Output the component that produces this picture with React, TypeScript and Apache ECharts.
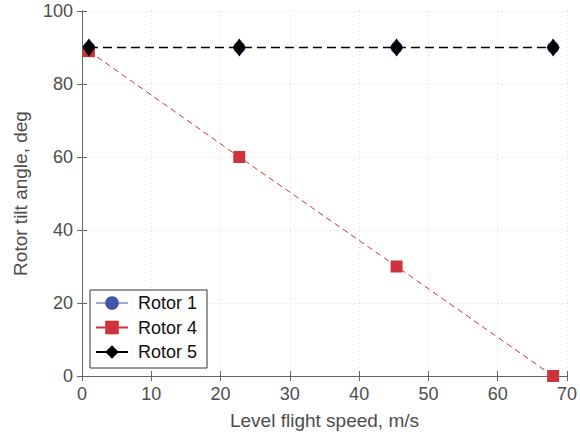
import React, { useEffect, useRef } from "react";
import * as echarts from "echarts";

// Level flight speed (m/s) at each transition point
const speeds = [1, 22.7, 45.4, 68];
// Rotor tilt angle (deg) per rotor
const rotor1 = [90, 90, 90, 90];
const rotor4 = [89, 60, 30, 0];
const rotor5 = [90, 90, 90, 90];

const xTicks = { min: 0, max: 70, interval: 10 };
const yTicks = { min: 0, max: 100, interval: 20 };

const FONT = "Liberation Sans, Arial, Helvetica, sans-serif";
const AXIS_COLOR = "#666666";
const LABEL_COLOR = "#4d4d4d";
const BLUE = "#4156a8";
const RED = "#d0323c";

const pair = (ys: number[]) => speeds.map((x, i) => [x, ys[i]]);

export default function App() {
  const ref = useRef<HTMLDivElement>(null);

  useEffect(() => {
    if (!ref.current) return;
    const chart = echarts.init(ref.current, null, { renderer: "svg" });

    const axisLine = { show: true, lineStyle: { color: AXIS_COLOR, width: 1 } };
    const axisTick = { show: true, inside: true, length: 5, lineStyle: { color: AXIS_COLOR } };
    const gridLine = { show: true, lineStyle: { color: "#dcdcdc", type: [1, 3] as any, width: 1 } };

    chart.setOption({
      animation: false,
      backgroundColor: "#ffffff",
      textStyle: { fontFamily: FONT },
      grid: { left: 82, right: 10, top: 11, bottom: 62 },
      xAxis: [
        {
          type: "value",
          ...xTicks,
          position: "bottom",
          axisLine,
          axisTick,
          splitLine: gridLine,
          axisLabel: { color: LABEL_COLOR, fontSize: 18, margin: 9, fontFamily: FONT },
          name: "Level flight speed, m/s",
          nameLocation: "middle",
          nameGap: 35,
          nameTextStyle: { color: LABEL_COLOR, fontSize: 19, fontFamily: FONT },
        },
        {
          type: "value",
          ...xTicks,
          position: "top",
          axisLine,
          axisTick,
          splitLine: { show: false },
          axisLabel: { show: false },
        },
      ],
      yAxis: [
        {
          type: "value",
          ...yTicks,
          position: "left",
          axisLine,
          axisTick,
          splitLine: gridLine,
          axisLabel: { color: LABEL_COLOR, fontSize: 18, margin: 9, fontFamily: FONT },
          name: "Rotor tilt angle, deg",
          nameLocation: "middle",
          nameGap: 52,
          nameTextStyle: { color: LABEL_COLOR, fontSize: 19, fontFamily: FONT },
        },
        {
          type: "value",
          ...yTicks,
          position: "right",
          axisLine,
          axisTick,
          splitLine: { show: false },
          axisLabel: { show: false },
        },
      ],
      legend: {
        orient: "vertical",
        left: 90,
        top: 290,
        padding: [4, 10, 7, 5],
        itemGap: 6.5,
        itemWidth: 32,
        itemHeight: 17,
        backgroundColor: "#ffffff",
        borderColor: "#333333",
        borderWidth: 1,
        borderRadius: 0,
        lineStyle: { type: "solid" },
        textStyle: { color: "#111111", fontSize: 18, fontFamily: FONT, padding: [0, 0, 0, 5] },
        data: [
          { name: "Rotor 1", lineStyle: { color: BLUE, width: 1, opacity: 1, type: "solid" } },
          { name: "Rotor 4" },
          { name: "Rotor 5" },
        ],
      },
      series: [
        {
          // markers sit beneath the Rotor 5 diamonds; its line is covered
          name: "Rotor 1",
          type: "line",
          data: pair(rotor1),
          symbol: "circle",
          symbolSize: 12,
          itemStyle: { color: BLUE },
          lineStyle: { color: BLUE, width: 0, opacity: 0 },
          z: 2,
        },
        {
          name: "Rotor 4",
          type: "line",
          data: pair(rotor4),
          symbol: "rect",
          symbolSize: 12,
          itemStyle: { color: RED },
          lineStyle: { color: RED, width: 1, type: [6, 4] },
          z: 3,
        },
        {
          name: "Rotor 5",
          type: "line",
          data: pair(rotor5),
          symbol: "diamond",
          symbolSize: [13, 18],
          itemStyle: { color: "#000000" },
          lineStyle: { color: "#000000", width: 1.3, type: [9, 5] },
          z: 4,
        },
      ],
    });

    return () => chart.dispose();
  }, []);

  return (
    <div
      ref={ref}
      style={{ position: "absolute", left: 0, top: 0, width: 580, height: 438 }}
    />
  );
}
